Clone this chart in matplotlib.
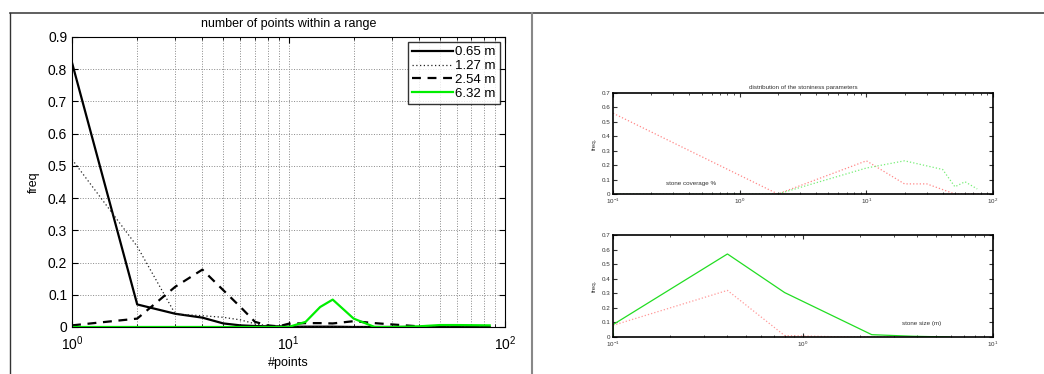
import numpy as np
import matplotlib
matplotlib.use("Agg")
from matplotlib import pyplot as plt
from matplotlib.lines import Line2D

plt.rcParams['font.family'] = ['Liberation Sans', 'DejaVu Sans']
plt.rcParams['mathtext.fontset'] = 'custom'
plt.rcParams['mathtext.rm'] = 'Liberation Sans'

# left panel: frequency of #points within a range
n_points = [1, 2, 3, 4, 5, 6, 7, 8, 9, 10, 12, 14, 16, 20, 25, 30, 40, 50, 60, 85]
freq_065 = [0.82, 0.07, 0.041, 0.029, 0.011, 0.005, 0.003, 0.002, 0.002, 0.001,
            0.001, 0.001, 0.001, 0, 0, 0, 0, 0, 0, 0]
freq_127 = [0.52, 0.25, 0.04, 0.035, 0.03, 0.022, 0.01, 0.004, 0.002, 0.001,
            0, 0, 0, 0, 0, 0, 0, 0, 0, 0]
freq_254 = [0.005, 0.026, 0.125, 0.178, 0.114, 0.062, 0.016, 0.005, 0.002, 0.01,
            0.012, 0.012, 0.011, 0.018, 0.012, 0.008, 0.002, 0, 0, 0]
freq_632 = [0, 0, 0, 0, 0, 0, 0, 0, 0, 0,
            0.016, 0.062, 0.085, 0.026, 0, 0, 0.002, 0.006, 0.006, 0.005]
labels = ['0.65 m', '1.27 m', '2.54 m', '6.32 m']

# right top: stone coverage %
cov_x = [0.1, 2, 10, 20, 30, 50, 80]
cov_red = [0.56, 0, 0.23, 0.07, 0.07, 0, 0]
cov_gx = [0.1, 2, 10, 20, 40, 50, 60, 75]
cov_green = [0, 0, 0.18, 0.23, 0.17, 0.05, 0.085, 0.035]

# right bottom: stone size (m)
size_x = [0.1, 0.1, 0.4, 0.8, 2.3, 3.8, 5.9]
size_green = [0, 0.085, 0.57, 0.305, 0.016, 0.005, 0]
size_rx = [0.1, 0.4, 0.8, 1.5, 3.0]
size_red = [0.08, 0.32, 0.01, 0.002, 0]

fig = plt.figure(figsize=(10.44, 3.74), dpi=100)

# frame of the composite
fig.add_artist(Line2D([10 / 1044, 1], [1 - 12.5 / 374, 1 - 12.5 / 374], color='#444444', lw=1.2))
fig.add_artist(Line2D([10 / 1044, 10 / 1044], [0, 1 - 12.5 / 374], color='#333333', lw=1.0))
fig.add_artist(Line2D([532 / 1044, 532 / 1044], [0, 1 - 12.5 / 374], color='#888888', lw=1.5))

ax = fig.add_axes([0.069, 0.1257, 0.4147, 0.7754])
ax.plot(n_points, freq_065, color='k', lw=1.6, ls='-', label=labels[0])
ax.plot(n_points, freq_127, color='#222222', lw=0.9, ls=(0, (1, 2)), label=labels[1])
ax.plot(n_points, freq_254, color='k', lw=1.6, ls='--', dashes=(4, 3), label=labels[2])
ax.plot(n_points, freq_632, color='#00ee00', lw=1.6, ls='-', label=labels[3])
ax.set_xscale('log')
ax.set_xlim(1, 100)
ax.set_ylim(0, 0.9)
ax.set_yticks(np.arange(0, 0.91, 0.1))
ax.set_yticklabels(['0', '0.1', '0.2', '0.3', '0.4', '0.5', '0.6', '0.7', '0.8', '0.9'])
ax.grid(True, which='major', axis='both', ls=':', color='#888888', lw=0.7)
ax.grid(True, which='minor', axis='x', ls=':', color='#888888', lw=0.7)
ax.tick_params(which='both', direction='in', top=True, right=True, labelsize=10)
ax.tick_params(which='major', length=4)
ax.tick_params(which='minor', length=2)
ax.tick_params(axis='x', which='major', pad=5)
ax.set_title('number of points within a range', fontsize=9, pad=7)
ax.set_xlabel('#points', fontsize=9, labelpad=3)
ax.set_ylabel('freq', fontsize=9, labelpad=6)
leg = ax.legend(loc='upper right', fontsize=9.5, frameon=True, fancybox=False,
                edgecolor='k', handlelength=3.1, handletextpad=0.2,
                borderpad=0.3, labelspacing=0.12, borderaxespad=0.4)
leg.get_frame().set_linewidth(1.0)

# right top
ax2 = fig.add_axes([0.5872, 0.4813, 0.364, 0.27])
ax2.plot(cov_x, cov_red, color='#ff8888', ls=':', lw=0.9)
ax2.plot(cov_gx, cov_green, color='#77ee77', ls=':', lw=0.9)
ax2.set_xscale('log')
ax2.set_xlim(0.1, 100)
ax2.set_ylim(0, 0.7)
ax2.set_yticks(np.arange(0, 0.71, 0.1))
ax2.set_yticklabels(['0', '0.1', '0.2', '0.3', '0.4', '0.5', '0.6', '0.7'])
ax2.tick_params(which='both', direction='in', top=True, right=True, labelsize=4.5,
                pad=2, colors='#333333')
ax2.tick_params(which='major', length=3)
ax2.tick_params(which='minor', length=1.5)
ax2.set_title('distribution of the stoniness parameters', fontsize=4.5, pad=3, color='#333333')
ax2.set_ylabel('freq.', fontsize=4.5, labelpad=3, color='#333333')
ax2.text(0.1 * 10 ** 0.42, 0.065, 'stone coverage %', fontsize=4.5, color='#333333')
for s in ax2.spines.values():
    s.set_linewidth(1.2)

# right bottom
ax3 = fig.add_axes([0.5872, 0.0989, 0.364, 0.2727])
ax3.plot(size_x, size_green, color='#22dd22', ls='-', lw=0.9)
ax3.plot(size_rx, size_red, color='#ff9999', ls=':', lw=0.9)
ax3.set_xscale('log')
ax3.set_xlim(0.1, 10)
ax3.set_ylim(0, 0.7)
ax3.set_yticks(np.arange(0, 0.71, 0.1))
ax3.set_yticklabels(['0', '0.1', '0.2', '0.3', '0.4', '0.5', '0.6', '0.7'])
ax3.tick_params(which='both', direction='in', top=True, right=True, labelsize=4.5,
                pad=2, colors='#333333')
ax3.tick_params(which='major', length=3)
ax3.tick_params(which='minor', length=1.5)
ax3.set_ylabel('freq.', fontsize=4.5, labelpad=3, color='#333333')
ax3.text(0.1 * 10 ** 1.52, 0.08, 'stone size (m)', fontsize=4.5, color='#333333')
for s in ax3.spines.values():
    s.set_linewidth(1.2)

fig.savefig('out.png', dpi=100)
